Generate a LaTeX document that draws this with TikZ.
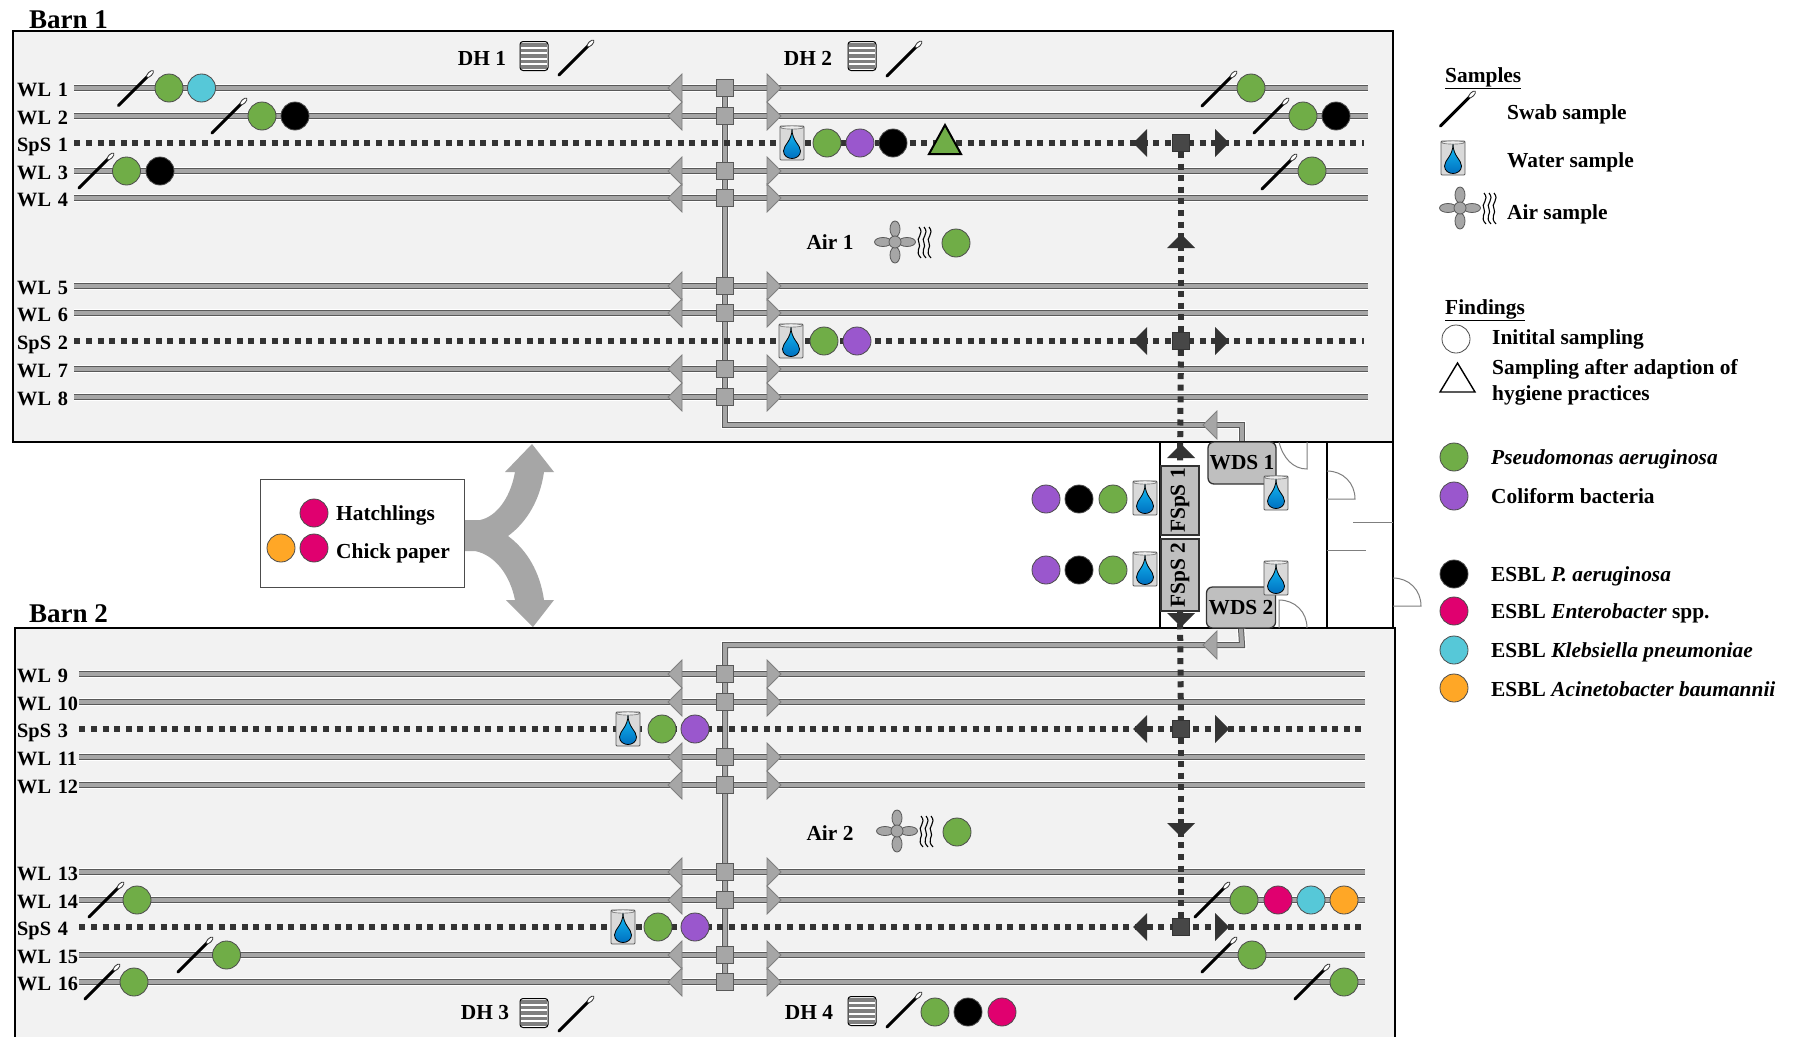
\documentclass[tikz,border=0pt]{standalone}
\usepackage{fontspec}
\setmainfont{Liberation Serif}
\usepackage{tikz}
\usetikzlibrary{positioning,backgrounds}
\definecolor{barnfill}{HTML}{F2F2F2}
\definecolor{wirefill}{HTML}{A6A6A6}
\definecolor{wireedge}{HTML}{595959}
\definecolor{darkdot}{HTML}{333333}
\definecolor{boxgrey}{HTML}{BFBFBF}
\definecolor{canfill}{HTML}{D9D9D9}
\definecolor{doorgrey}{HTML}{7F7F7F}
\definecolor{dropa}{HTML}{14BDF5}
\definecolor{dropb}{HTML}{0070C0}
\definecolor{fgreen}{HTML}{70AD47}
\definecolor{fpurple}{HTML}{9A57CD}
\definecolor{fcyan}{HTML}{56C8D8}
\definecolor{fpink}{HTML}{E0006F}
\definecolor{forange}{HTML}{FFA726}
\tikzset{
  barn/.style={draw=black, line width=1.6pt, fill=barnfill},
  wire/.style={preaction={draw=white, line width=8.5pt}, draw=wireedge, double=wirefill, double distance=4pt, line width=1pt},
  dotline/.style={draw=darkdot, line width=6pt, dash pattern=on 6pt off 5.6pt},
  wall/.style={draw=black, line width=1.5pt},
  door/.style={draw=doorgrey, line width=1pt},
  wllabel/.style={inner sep=0pt, anchor=west, align=left, text height=16pt, text depth=0pt, font=\bfseries\fontsize{20.3}{23}\selectfont},
  lab/.style={inner sep=0pt, anchor=west, align=left},
  midlab/.style={inner sep=0pt},
  junction/.style={draw=wireedge, fill=wirefill, line width=.8pt, minimum size=17pt, inner sep=0pt},
  darkjunction/.style={draw=darkdot, fill=darkdot!90!white, line width=.8pt, minimum size=17pt, inner sep=0pt},
  unitbox/.style={draw=black!80, fill=boxgrey, line width=1.3pt, inner sep=0pt},
  spot/.style={circle, draw=black!70, line width=.8pt, minimum size=28pt, inner sep=0pt},
  spotgreen/.style={spot, fill=fgreen},
  spotpurple/.style={spot, fill=fpurple},
  spotblack/.style={spot, fill=black},
  spotcyan/.style={spot, fill=fcyan},
  spotpink/.style={spot, fill=fpink},
  spotorange/.style={spot, fill=forange},
  spotempty/.style={spot, fill=white},
  valveleft/.pic={\draw[draw=doorgrey, fill=wirefill, line width=.8pt] (0,-14) -- (-14,0) -- (0,14) -- cycle;},
  valveright/.pic={\draw[draw=doorgrey, fill=wirefill, line width=.8pt] (0,-14) -- (14,0) -- (0,14) -- cycle;},
  darkleft/.pic={\fill[darkdot] (0,-14) -- (-14,0) -- (0,14) -- cycle;},
  darkright/.pic={\fill[darkdot] (0,-14) -- (14,0) -- (0,14) -- cycle;},
  darkup/.pic={\fill[darkdot] (-14,7) -- (0,-7) -- (14,7) -- cycle;},
  darkdown/.pic={\fill[darkdot] (-14,-7) -- (0,7) -- (14,-7) -- cycle;},
  swabstick/.pic={
    \draw[black, line width=3pt, line cap=round] (-17,17) -- (12,-12);
    \draw[black!80, fill=white, line width=.8pt, rotate around={45:(14.5,-14.5)}] (14.5,-14.5) ellipse (4.5 and 2);
  },
  watercan/.pic={
    \draw[draw=black!65, fill=canfill, line width=.8pt, rounded corners=1pt] (-12,-17) rectangle (12,17);
    \draw[draw=black!55, fill=canfill!50!white, line width=.6pt] (0,-15.5) ellipse (11.5 and 1.6);
    \draw[black, line width=.8pt, top color=dropa, bottom color=dropb] (0,-14) .. controls (0,-2) and (-8.5,2) .. (-8.5,8) .. controls (-8.5,13) and (-4,15.5) .. (0,15.5) .. controls (4,15.5) and (8.5,13) .. (8.5,8) .. controls (8.5,2) and (0,-2) .. (0,-14) -- cycle;
  },
  fanunit/.pic={
    \foreach \a/\b in {-12/0,12/0,0/-13,0/13}{
      \ifdim \a pt=0pt
        \draw[draw=wireedge, fill=wirefill, line width=.8pt] (\a,\b) ellipse (5 and 8);
      \else
        \draw[draw=wireedge, fill=wirefill, line width=.8pt] (\a,\b) ellipse (8.5 and 4.5);
      \fi
    }
    \draw[draw=wireedge, fill=wirefill, line width=.8pt] (0,0) circle (6);
  },
  airwaves/.pic={
    \foreach \a in {-5,0,5}{
      \draw[black, line width=1.1pt] (\a-1,-15) .. controls (\a+5,-8) and (\a-5,-4) .. (\a-1,1) .. controls (\a+2,5) and (\a-6,9) .. (\a+1,16);
    }
  },
  dhbox/.pic={
    \fill[white, rounded corners=3pt] (-14,-14.5) rectangle (14,14.5);
    \foreach \b in {-11,-5.5,0,5.5,11}{
      \fill[doorgrey] (-13,\b-1.6) rectangle (13,\b+1.6);
    }
    \draw[black, line width=1pt, rounded corners=3pt] (-14,-14.5) rectangle (14,14.5);
  }
}
\begin{document}
\begin{tikzpicture}[x=1pt, y=-1pt, every node/.style={font=\bfseries\fontsize{21.4}{26}\selectfont}]
  \useasboundingbox (0,0) rectangle (1795,1036);
  \begin{scope}[on background layer]
    \fill[white] (0,0) rectangle (1795,1036);
    \draw[barn] (13,31) rectangle (1393,442);
    \draw[barn] (15,628) rectangle (1395,1045);
    \draw[wall] (1160,442) -- (1160,628);
    \draw[wall] (1327,442) -- (1327,628);
    \draw[wall] (1393,442) -- (1393,628);
    \draw[door] (1279,442) .. controls (1283,458) and (1293,469) .. (1307,469) -- (1307,442);
    \draw[door] (1327,471) .. controls (1343,471) and (1355,483) .. (1355,499) -- (1327,499);
    \draw[door] (1393,578) .. controls (1409,578) and (1421,590) .. (1421,606) -- (1393,606);
    \draw[door] (1307,628) .. controls (1307,612) and (1295,600) .. (1279,600) -- (1279,628);
    \draw[door] (1353,522) -- (1393,522);
    \draw[door] (1327,550) -- (1366,550);
  \end{scope}

  \node[lab, font=\bfseries\fontsize{27}{30}\selectfont] (barn1) at (29,20) {Barn 1};
  \node[lab, font=\bfseries\fontsize{27}{30}\selectfont] (barn2) at (29,614) {Barn 2};

  \foreach \n/\y/\w/\xe in {1/88/57/1368,2/116/57/1368,3/171/57/1368,4/198/57/1368,5/286/57/1368,6/313/57/1368,7/369/57/1368,8/397/57/1368,
                            9/674/62/1365,10/702/62/1365,11/757/62/1365,12/785/62/1365,13/872/62/1365,14/900/62/1365,15/955/62/1365,16/982/62/1365}{
    \node[wllabel, text width=\w pt] (wl\n) at (17,\y) {WL \n};
    \coordinate (wlend\n) at (\xe,\y);
    \node[junction] (jn\n) at (725,\y) {};
    \pic at (682,\y) {valveleft};
    \pic at (767,\y) {valveright};
  }
  \foreach \n/\y/\w/\xe in {1/143/57/1364,2/341/57/1364,3/729/62/1365,4/927/62/1365}{
    \node[wllabel, text width=\w pt] (sps\n) at (17,\y) {SpS \n};
    \coordinate (spsend\n) at (\xe,\y);
    \node[darkjunction] (sq\n) at (1181,\y) {};
    \pic at (1147,\y) {darkleft};
    \pic at (1215,\y) {darkright};
  }

  \node[unitbox, rounded corners=6pt, minimum width=68pt, minimum height=42pt] (wds1) at (1242,463) {WDS 1};
  \node[unitbox, rounded corners=6pt, minimum width=69pt, minimum height=41pt] (wds2) at (1241,607.5) {WDS 2};
  \node[unitbox, rotate=90, minimum width=69pt, minimum height=38pt] (fsps1) at (1180,500.5) {FSpS 1};
  \node[unitbox, rotate=90, minimum width=72pt, minimum height=38pt] (fsps2) at (1180,575) {FSpS 2};
  \coordinate (turn1) at (1242,425);
  \coordinate (turn2) at (1242,645);

  \begin{scope}[on background layer]
    \draw[wire] (jn1.center) |- (turn1) -- (wds1.north);
    \draw[wire] (jn16.center) |- (turn2) -- (wds2.south);
    \foreach \n in {1,...,16}{
      \draw[wire] (wl\n.east) -- (wlend\n);
    }
    \foreach \n in {1,...,4}{
      \draw[dotline] (sps\n.east) -- (spsend\n);
    }
    \draw[dotline] (sq1) -- (sq2);
    \draw[dotline] (sq2) -- (fsps1.east);
    \draw[dotline] (fsps2.west) -- (sq3);
    \draw[dotline] (sq3) -- (sq4);
  \end{scope}

  \pic at (1217,425) {valveleft};
  \pic at (1217,645) {valveleft};
  \pic at (1181,241) {darkup};
  \pic at (1181,451) {darkup};
  \pic at (1181,620) {darkdown};
  \pic at (1181,830) {darkdown};

  \foreach \x/\y in {135.5/88.5,229/116,96/171,576/58,904/59,1219/89,1271/116,1279/172,
                     106/900,195/955,102/982,576/1014,904/1010,1212/900,1219/955,1312/982,1457.5/109}{
    \pic at (\x,\y) {swabstick};
  }
  \foreach \x/\y in {792/143,791/341,628/729,623/927,1145/498,1145/569,1276/493,1276/578,1453/158}{
    \pic at (\x,\y) {watercan};
  }
  \foreach \x/\y in {534/56,862/56,534/1013,862/1011}{
    \pic at (\x,\y) {dhbox};
  }
  \foreach \x/\y in {895/242,897/831,1460/208}{
    \pic at (\x,\y) {fanunit};
  }
  \foreach \x/\y in {925/242,927/831,1490/208}{
    \pic at (\x,\y) {airwaves};
  }

  \foreach \st/\x/\y [count=\k] in {spotgreen/169/88,spotcyan/201.5/88,spotgreen/262/116,spotblack/295/116,spotgreen/126.5/171,spotblack/160/171,
      spotgreen/827/143,spotpurple/860/143,spotblack/893/143,spotgreen/1251/88,spotgreen/1303/116,spotblack/1336/116,spotgreen/1312/171,
      spotgreen/956/243,spotgreen/824/341,spotpurple/857/341,
      spotpurple/1046/499,spotblack/1079/499,spotgreen/1113/499,spotpurple/1046/570,spotblack/1079/570,spotgreen/1113/570,
      spotgreen/662/729,spotpurple/695/729,spotgreen/957/832,spotgreen/137/900,spotgreen/1244/900,spotpink/1278/900,spotcyan/1311/900,spotorange/1344/900,
      spotgreen/658/927,spotpurple/695/927,spotgreen/226.5/955,spotgreen/1252/955,spotgreen/134/982,spotgreen/1344/982,
      spotgreen/935/1012,spotblack/968/1012,spotpink/1002/1012,
      spotempty/1456/339,spotgreen/1454/457,spotpurple/1454/496,spotblack/1454/574,spotpink/1454/611,spotcyan/1454/650,spotorange/1454/688}{
    \node[\st] (spot\k) at (\x,\y) {};
  }
  \draw[black, fill=fgreen, line width=2pt] (929,154) -- (945,125) -- (961,154) -- cycle;
  \draw[black, line width=1.4pt] (1440,392) -- (1457.5,363) -- (1475,392) -- cycle;

  \node[midlab] (dh1) at (482,58) {DH 1};
  \node[midlab] (dh2) at (808,58) {DH 2};
  \node[midlab] (dh3) at (485,1013) {DH 3};
  \node[midlab] (dh4) at (809,1012) {DH 4};
  \node[midlab] (air1) at (830,242) {Air 1};
  \node[midlab] (air2) at (830,833) {Air 2};

  \fill[wirefill] (464,520) -- (480,520) .. controls (495,517) and (510,500) .. (515,472) -- (505,472) -- (532,444) -- (554,472) -- (544,472)
    .. controls (540,500) and (527,522) .. (508,536) .. controls (527,550) and (540,572) .. (544,600) -- (554,600) -- (533,627) -- (506,600) -- (515,600)
    .. controls (510,575) and (495,555) .. (475,551) -- (464,551) -- cycle;
  \node[draw=black!70, fill=white, line width=1pt, minimum width=204pt, minimum height=108pt, inner sep=0pt] (source) at (362,533) {};
  \node[spotpink] (hatch) at (314,513) {};
  \node[spotpink] (paperb) at (314,548) {};
  \node[spotorange] (papera) at (281,548) {};
  \node[lab] (hatchtxt) at (336,515) {Hatchlings};
  \node[lab] (papertxt) at (336,553) {Chick paper};

  \node[lab] (samples) at (1445,78) {\underline{Samples}};
  \node[lab] (swabtxt) at (1507,114) {Swab sample};
  \node[lab] (watertxt) at (1507,162) {Water sample};
  \node[lab] (airtxt) at (1507,214) {Air sample};
  \node[lab] (findings) at (1445,310) {\underline{Findings}};
  \node[lab] (inittxt) at (1492,339) {Initital sampling};
  \node[lab] (aftertxt) at (1492,382) {Sampling after adaption of\\hygiene practices};
  \node[lab] (ptxt) at (1491,459) {\textit{Pseudomonas aeruginosa}};
  \node[lab] (coltxt) at (1491,496) {Coliform bacteria};
  \node[lab] (esblp) at (1491,576) {ESBL \textit{P. aeruginosa}};
  \node[lab] (esble) at (1491,613) {ESBL \textit{Enterobacter} spp.};
  \node[lab] (esblk) at (1491,652) {ESBL \textit{Klebsiella pneumoniae}};
  \node[lab] (esbla) at (1491,689) {ESBL \textit{Acinetobacter baumannii}};
\end{tikzpicture}
\end{document}
